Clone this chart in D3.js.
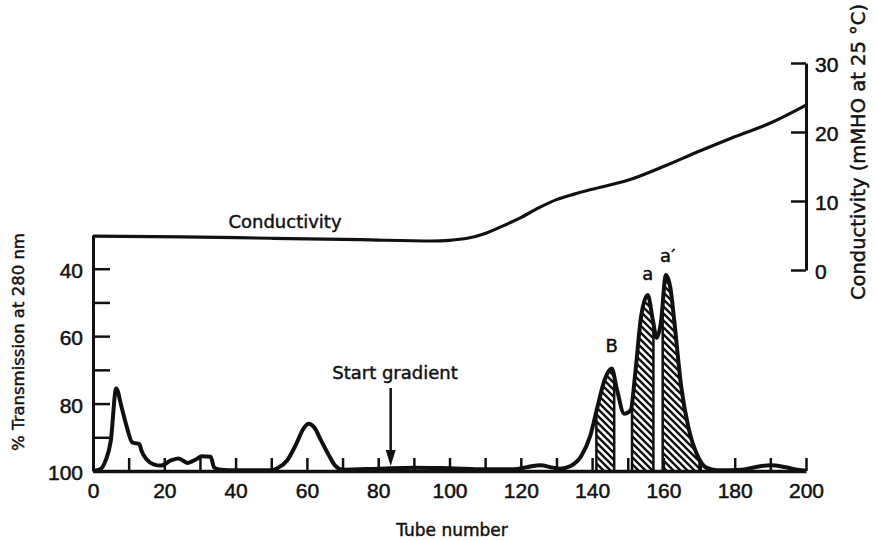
<!DOCTYPE html>
<html>
<head>
<meta charset="utf-8">
<script src="https://cdn.jsdelivr.net/npm/d3@7/dist/d3.min.js"></script>
<style>
  html, body { margin: 0; padding: 0; background: #fff; }
  svg { display: block; }
  .tick text { font-family: "Liberation Sans", Arial, sans-serif; font-size: 21px; fill: #111; stroke: #111; stroke-width: 0.5px; }
  .lbl { font-family: "DejaVu Sans", sans-serif; fill: #111; stroke: #111; stroke-width: 0.45px; }
</style>
</head>
<body>
<svg id="chart" width="876" height="540"></svg>
<script>
// Elution profile: % transmission at 280 nm per tube
const tubes = [0, 2, 3.5, 5, 6.5, 8, 9.5, 11, 13, 13.6, 15, 17, 19, 22, 24, 26.5, 29, 30.5, 33, 34, 36, 40,
  50, 52, 54.5, 57, 59, 60.5, 62, 64, 66, 68, 70, 80, 90, 100, 110, 118, 122, 125.5, 129, 131, 134, 137,
  139.5, 141.5, 143.5, 145.5, 147, 149, 150.8, 152.2, 153.7, 155.6, 157, 158.1, 159.3, 160.7, 162, 163,
  165, 167, 169.6, 172, 175, 182, 186, 190, 194, 198, 200];
const transmission = [100, 99.5, 97, 91, 75.5, 81, 87, 91.5, 92, 94, 96.5, 98, 98.4, 96.8, 96.3, 97.6, 96.5, 95.6, 95.8, 99, 99.6, 99.8,
  99.8, 99, 96.8, 92, 87.5, 86, 87, 91, 95, 98.5, 99.6, 99.3, 99, 99.2, 99.5, 99.5, 98.8, 98.3, 99, 99.3, 98.5, 95.5,
  89.5, 81, 73, 69.6, 76, 83, 82, 70, 54.5, 47.8, 55, 60.5, 56, 41.9, 46, 55,
  75, 87, 95.5, 99, 99.8, 99.6, 98.8, 98.3, 98.8, 99.7, 99.9];

// Conductivity (mMHO at 25 °C) along the run
const condTubes = [0, 25, 50, 75, 95, 100, 105, 110, 115, 120, 125, 130, 135, 140, 150, 160, 170, 180, 190, 200];
const conductivity = [4.9, 4.8, 4.6, 4.4, 4.2, 4.3, 4.6, 5.3, 6.4, 7.6, 9.0, 10.2, 11.0, 11.7, 13.0, 15.0, 17.2, 19.3, 21.3, 23.9];

// Pooled fractions (hatched)
const fractionNames = ["B", "a", "a′"];
const fractionFrom = [141.2, 151.2, 159.8];
const fractionTo = [146.2, 157.2, 170.5];
const peakTubes = [145.5, 155.6, 161.2];
const peakValues = [69.6, 47.8, 41.9];

// Tick values
const xTickValues = d3.range(0, 201, 10);
const leftTickValues = [40, 50, 60, 70, 80, 90, 100];
const rightTickValues = [0, 10, 20, 30];
const startGradientTube = 83.5;

const svg = d3.select("#chart");

const x = d3.scaleLinear().domain([0, 200]).range([93, 806]);
const yT = d3.scaleLinear().domain([30, 100]).range([235, 471]);
const yC = d3.scaleLinear().domain([0, 30]).range([270, 63]);

const defs = svg.append("defs");
const pat = defs.append("pattern")
  .attr("id", "hatch").attr("patternUnits", "userSpaceOnUse")
  .attr("width", 7).attr("height", 7);
pat.append("path")
  .attr("d", "M0,0 L7,7 M-1,6 L1,8 M6,-1 L8,1")
  .attr("stroke", "#111").attr("stroke-width", 2.4).attr("fill", "none");

const pts = tubes.map((t, i) => [t, transmission[i]]);
const area = d3.area().x(d => x(d[0])).y0(yT(100)).y1(d => yT(d[1])).curve(d3.curveMonotoneX);
const line = d3.line().x(d => x(d[0])).y(d => yT(d[1])).curve(d3.curveMonotoneX);

defs.append("clipPath").attr("id", "under")
  .append("path").attr("d", area(pts));

// hatched fractions
const frac = svg.append("g").attr("clip-path", "url(#under)");
fractionNames.forEach((n, i) => {
  frac.append("rect")
    .attr("x", x(fractionFrom[i])).attr("width", x(fractionTo[i]) - x(fractionFrom[i]))
    .attr("y", yT(30)).attr("height", yT(100) - yT(30))
    .attr("fill", "url(#hatch)");
  [fractionFrom[i], fractionTo[i]].forEach(t => {
    frac.append("line")
      .attr("x1", x(t)).attr("x2", x(t)).attr("y1", yT(30)).attr("y2", yT(100))
      .attr("stroke", "#111").attr("stroke-width", 2.5);
  });
});

// transmission curve
svg.append("path").attr("d", line(pts))
  .attr("fill", "none").attr("stroke", "#111").attr("stroke-width", 4)
  .attr("stroke-linejoin", "round");

// conductivity curve
const cLine = d3.line().x(d => x(d[0])).y(d => yC(d[1])).curve(d3.curveMonotoneX);
svg.append("path").attr("d", cLine(condTubes.map((t, i) => [t, conductivity[i]])))
  .attr("fill", "none").attr("stroke", "#111").attr("stroke-width", 3.2);

// axes
function styleAxis(g, w) {
  g.select(".domain").attr("stroke", "#111").attr("stroke-width", w);
  g.selectAll(".tick line").attr("stroke", "#111").attr("stroke-width", 2.5);
}

const xAxis = svg.append("g").attr("transform", `translate(0,${yT(100)})`)
  .call(d3.axisBottom(x).tickValues(xTickValues).tickSize(-13).tickSizeOuter(0).tickPadding(12)
    .tickFormat(d => d % 20 === 0 ? d : ""));
styleAxis(xAxis, 3.5);

const lAxis = svg.append("g").attr("transform", `translate(${x(0)},0)`)
  .call(d3.axisLeft(yT).tickValues(leftTickValues).tickSize(-17).tickSizeOuter(0).tickPadding(10)
    .tickFormat(d => d % 20 === 0 ? d : ""));
styleAxis(lAxis, 3);
lAxis.selectAll(".tick text").attr("dy", "0.42em");

const rAxis = svg.append("g").attr("transform", `translate(${x(200)},0)`)
  .call(d3.axisRight(yC).tickValues(rightTickValues).tickSize(-15).tickSizeOuter(0).tickPadding(9));
styleAxis(rAxis, 3);
rAxis.selectAll(".tick text").attr("dy", "0.42em");

// text labels
svg.append("text").attr("class", "lbl").attr("x", 452).attr("y", 536)
  .attr("text-anchor", "middle").attr("font-size", 17).text("Tube number");

svg.append("text").attr("class", "lbl")
  .attr("transform", "translate(24,342) rotate(-90)")
  .attr("text-anchor", "middle").attr("font-size", 16.5).text("% Transmission at 280 nm");

svg.append("text").attr("class", "lbl")
  .attr("transform", "translate(865,152) rotate(-90)")
  .attr("text-anchor", "middle").attr("font-size", 19.5).text("Conductivity (mMHO at 25 °C)");

svg.append("text").attr("class", "lbl").attr("x", 285).attr("y", 228)
  .attr("text-anchor", "middle").attr("font-size", 18).text("Conductivity");

svg.append("text").attr("class", "lbl").attr("x", 395).attr("y", 379)
  .attr("text-anchor", "middle").attr("font-size", 18).text("Start gradient");

// arrow for start of gradient
const ax = x(startGradientTube);
svg.append("line").attr("x1", ax).attr("x2", ax).attr("y1", 388).attr("y2", 452)
  .attr("stroke", "#111").attr("stroke-width", 2.5);
svg.append("path").attr("d", `M${ax - 5},450 L${ax + 5},450 L${ax},466 Z`).attr("fill", "#111");

// peak labels
const labelDy = [-17, -15, -13];
fractionNames.forEach((n, i) => {
  svg.append("text").attr("class", "lbl")
    .attr("x", x(peakTubes[i])).attr("y", yT(peakValues[i]) + labelDy[i])
    .attr("text-anchor", "middle").attr("font-size", 18).text(n);
});
</script>
</body>
</html>
